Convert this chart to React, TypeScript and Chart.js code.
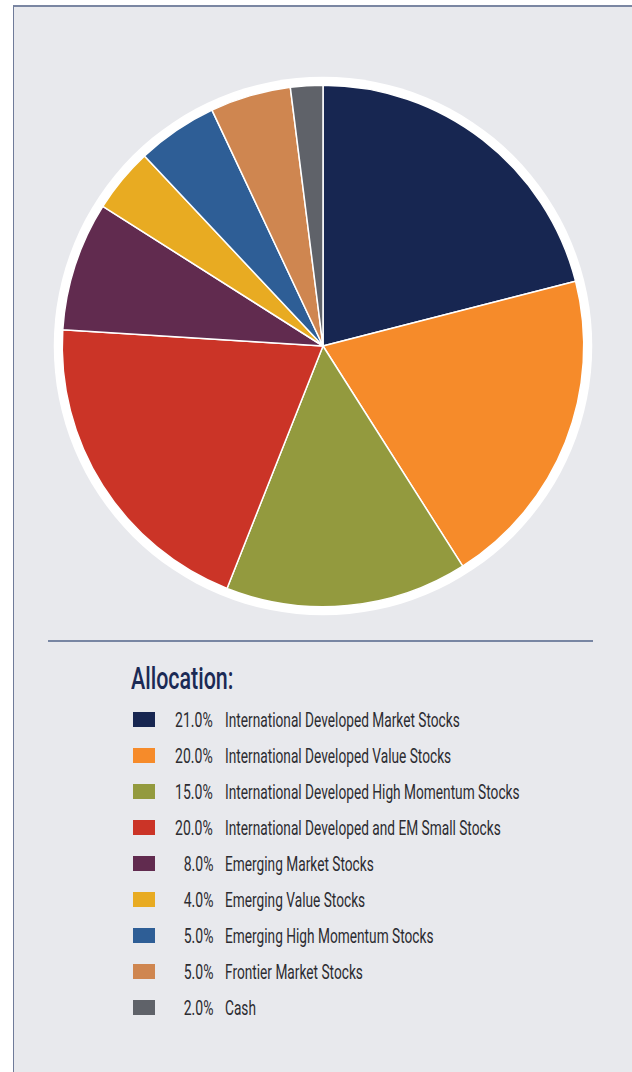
import React, { useEffect, useRef } from "react";
import { Chart, registerables } from "chart.js";

Chart.register(...registerables);

const categories: string[] = [
  "International Developed Market Stocks",
  "International Developed Value Stocks",
  "International Developed High Momentum Stocks",
  "International Developed and EM Small Stocks",
  "Emerging Market Stocks",
  "Emerging Value Stocks",
  "Emerging High Momentum Stocks",
  "Frontier Market Stocks",
  "Cash",
];

const allocations: number[] = [21.0, 20.0, 15.0, 20.0, 8.0, 4.0, 5.0, 5.0, 2.0];

const sliceColors: string[] = [
  "#172651",
  "#f68b2a",
  "#939a3e",
  "#cb3427",
  "#612b4f",
  "#e8ab22",
  "#2e5e96",
  "#cf8650",
  "#5f6269",
];

const legendTitle = "Allocation:";

const ringPlugin = {
  id: "whiteRing",
  beforeDatasetsDraw(chart: any) {
    const meta = chart.getDatasetMeta(0);
    const arc = meta.data[0];
    if (!arc) return;
    const { x, y, outerRadius } = arc.getProps(["x", "y", "outerRadius"], true);
    const ctx = chart.ctx;
    ctx.save();
    ctx.beginPath();
    ctx.arc(x, y, outerRadius + 8.5, 0, Math.PI * 2);
    ctx.fillStyle = "#ffffff";
    ctx.fill();
    ctx.restore();
  },
};

export default function App() {
  const canvasRef = useRef<HTMLCanvasElement | null>(null);

  useEffect(() => {
    if (!canvasRef.current) return;
    const chart = new Chart(canvasRef.current, {
      type: "pie",
      data: {
        labels: categories,
        datasets: [
          {
            data: allocations,
            backgroundColor: sliceColors,
            borderColor: "#ffffff",
            borderWidth: 1.5,
            hoverOffset: 0,
          },
        ],
      },
      options: {
        responsive: false,
        animation: false,
        layout: { padding: 18.5 },
        plugins: {
          legend: { display: false },
          tooltip: { enabled: false },
        },
      },
      plugins: [ringPlugin],
    });
    return () => chart.destroy();
  }, []);

  const textFont = "Roboto, 'DejaVu Sans', sans-serif";

  return (
    <div
      style={{
        position: "absolute",
        left: 0,
        top: 0,
        width: 632,
        height: 1072,
        overflow: "hidden",
        background: "#ffffff",
      }}
    >
      <div
        style={{
          position: "absolute",
          left: 13,
          top: 5,
          width: 640,
          height: 1100,
          background: "#e8e9ed",
          borderLeft: "1.5px solid #6f7b99",
          borderTop: "2px solid #7a86a2",
          boxSizing: "border-box",
        }}
      />
      <canvas
        ref={canvasRef}
        width={560}
        height={560}
        style={{ position: "absolute", left: 42.5, top: 65.5, width: 560, height: 560 }}
      />
      <div
        style={{
          position: "absolute",
          left: 48,
          top: 639.5,
          width: 545,
          height: 2,
          background: "#7886a3",
        }}
      />
      <div
        style={{
          position: "absolute",
          left: 131,
          top: 658,
          fontFamily: textFont,
          fontWeight: 500,
          fontSize: 32,
          lineHeight: "40px",
          color: "#1b2a55",
          whiteSpace: "nowrap",
          transform: "scaleX(0.67)",
          transformOrigin: "left top",
        }}
      >
        {legendTitle}
      </div>
      {categories.map((label, i) => {
        const cy = 719.5 + i * 36;
        return (
          <React.Fragment key={label}>
            <div
              style={{
                position: "absolute",
                left: 133,
                top: cy - 7.5,
                width: 22,
                height: 15,
                background: sliceColors[i],
              }}
            />
            <div
              style={{
                position: "absolute",
                right: 632 - 213,
                top: cy - 13,
                fontFamily: textFont,
                fontSize: 20,
                lineHeight: "26px",
                color: "#2c2c31",
                whiteSpace: "nowrap",
                transform: "scaleX(0.7)",
                transformOrigin: "right center",
              }}
            >
              {allocations[i].toFixed(1) + "%"}
            </div>
            <div
              style={{
                position: "absolute",
                left: 225,
                top: cy - 13,
                fontFamily: textFont,
                fontSize: 20,
                lineHeight: "26px",
                color: "#2c2c31",
                whiteSpace: "nowrap",
                transform: "scaleX(0.685)",
                transformOrigin: "left center",
              }}
            >
              {label}
            </div>
          </React.Fragment>
        );
      })}
    </div>
  );
}
